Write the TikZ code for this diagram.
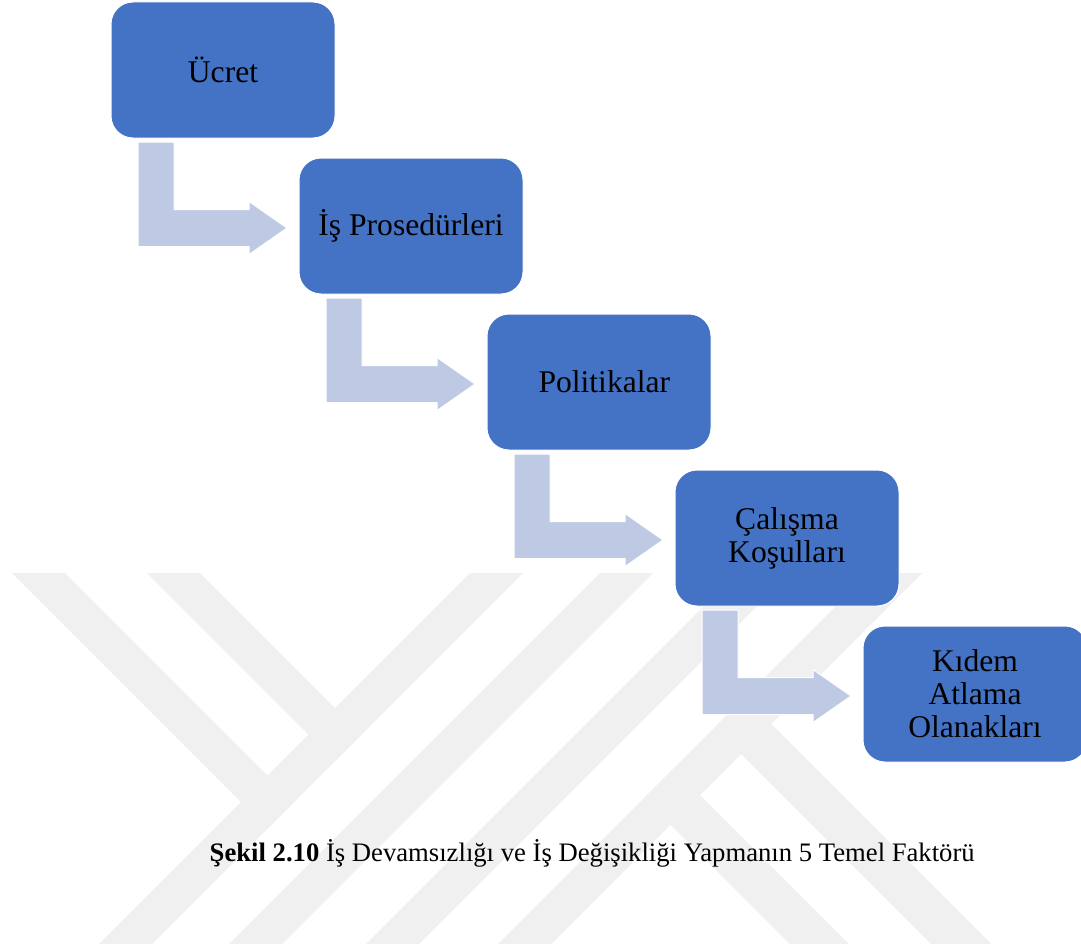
\documentclass[tikz,border=0pt]{standalone}
\usepackage{fontspec}
\setmainfont{Liberation Serif}
\usetikzlibrary{calc}

\definecolor{boxblue}{RGB}{68,114,196}
\definecolor{flowblue}{RGB}{190,201,228}
\definecolor{markgray}{RGB}{240,240,240}

\tikzset{
  box/.style={draw=white, line width=0.75pt, fill=boxblue, rounded corners=16.5pt,
    minimum width=168pt, minimum height=102pt, inner sep=0pt, outer sep=0pt,
    align=center, anchor=north west, text=black,
    font=\fontsize{23.7}{24.8}\selectfont},
  flow/.style={fill=flowblue, draw=white, line width=0.75pt},
  wmband/.style={fill=markgray},
  caption/.style={anchor=base west, text=black, font=\fontsize{20}{24}\selectfont}
}

% bent arrow from the lower edge of box #1 to the left side of box #2
\newcommand{\bentflow}[2]{%
  \coordinate (#1s) at ($(#1.south west)+(27,4)$);
  \coordinate (#1t) at ($(#2.west)+(-12,2)$);
  \coordinate (#1h) at ($(#1t)+(-38,0)$);
  \coordinate (#1c) at (#1s |- #1h);
  \filldraw[flow] (#1s) -- ++(36,0) |- ($(#1h)+(0,-18.5)$) -- ++(0,-8)
    -- (#1t) -- ($(#1h)+(0,26.5)$) -- ++(0,-8) -- ($(#1c)+(0,18.5)$) -- cycle;
}

\begin{document}
\begin{tikzpicture}[x=0.75pt, y=-0.75pt]
\useasboundingbox (0,0) rectangle (1081,949);
\clip (0,0) rectangle (1081,949);
\fill[white] (0,0) rectangle (1081,949);

% background emblem: slanted bands
% Y: long stroke with two branches
\fill[wmband] (470,573) -- (523,573) -- (152,944) -- (99,944) -- cycle;
\fill[wmband] (12,573) -- (65,573) -- (294,802) -- (267.5,828.5) -- cycle;
\fill[wmband] (147,573) -- (200,573) -- (361.5,734.5) -- (335,761) -- cycle;
% parallel strokes
\fill[wmband] (600,573) -- (653,573) -- (282,944) -- (229,944) -- cycle;
\fill[wmband] (737,573) -- (790,573) -- (419,944) -- (366,944) -- cycle;
% K: stem and two legs
\fill[wmband] (869,573) -- (922,573) -- (551,944) -- (498,944) -- cycle;
\fill[wmband] (744.5,697.5) -- (991,944) -- (931,944) -- (714.5,727.5) -- cycle;
\fill[wmband] (673.5,768.5) -- (849,944) -- (790,944) -- (644,798) -- cycle;

% factor boxes
\node[box] (b1) at (111,2)   {Ücret};
\node[box] (b2) at (299,158) {İş Prosedürleri};
\node[box] (b3) at (487,314) {\hspace*{8pt}Politikalar};
\node[box] (b4) at (675,470) {Çalışma\\Koşulları};
\node[box] (b5) at (863,626) {Kıdem\\Atlama\\Olanakları};

% connecting arrows
\bentflow{b1}{b2}
\bentflow{b2}{b3}
\bentflow{b3}{b4}
\bentflow{b4}{b5}

% caption
\node[caption] (cap) at (205,861)
  {\textbf{Şekil 2.10} İş Devamsızlığı ve İş Değişikliği Yapmanın 5 Temel Faktörü};
\end{tikzpicture}
\end{document}
